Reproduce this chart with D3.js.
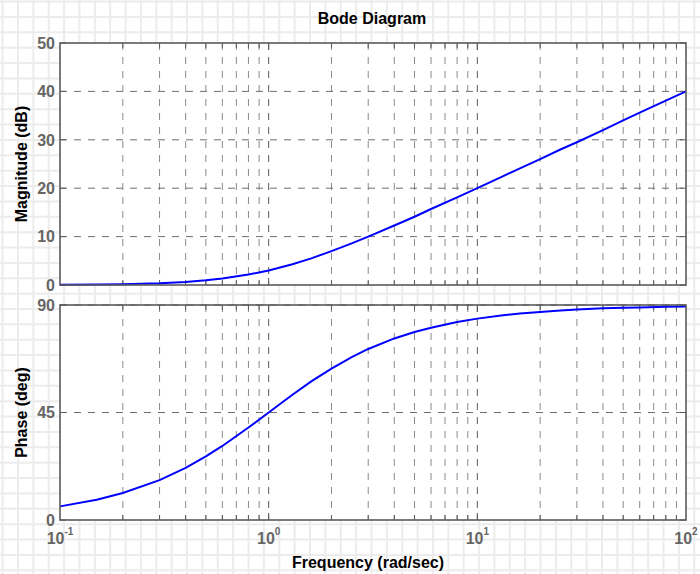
<!DOCTYPE html>
<html>
<head>
<meta charset="utf-8">
<script src="https://cdn.jsdelivr.net/npm/d3@7"></script>
<style>
  html, body { margin: 0; padding: 0; background: #fff; }
  svg { display: block; }
  text { font-family: Arial, "Liberation Sans", sans-serif; }
</style>
</head>
<body>
<svg id="chart" width="700" height="574"></svg>
<script>
// Frequency samples (rad/sec)
const freq = [0.1, 0.15, 0.2, 0.3, 0.4, 0.5, 0.6, 0.8, 1, 1.3, 1.6, 2, 2.5, 3, 4, 5, 6, 8,
              10, 13, 16, 20, 25, 30, 40, 50, 60, 80, 100];
// Magnitude response (dB)
const magnitude = [0.04, 0.1, 0.17, 0.37, 0.64, 0.97, 1.34, 2.15, 3.01, 4.3, 5.5, 7.0, 8.6, 10.0,
                   12.3, 14.1, 15.7, 18.1, 20.0, 22.3, 24.1, 26.0, 28.0, 29.5, 32.0, 34.0, 35.6, 38.1, 40.0];
// Phase response (deg)
const phase = [5.7, 8.5, 11.3, 16.7, 21.8, 26.6, 31.0, 38.7, 45.0, 52.4, 58.0, 63.4, 68.2, 71.6,
               76.0, 78.7, 80.5, 82.9, 84.3, 85.6, 86.4, 87.1, 87.7, 88.1, 88.6, 88.9, 89.0, 89.3, 89.4];

const freqTicks = [0.1, 1, 10, 100];
const freqTickExp = ["-1", "0", "1", "2"];
const magTicks = [0, 10, 20, 30, 40, 50];
const phaseTicks = [0, 45, 90];

const W = 700, H = 574;
const svg = d3.select("#chart");

// Graph-paper backdrop
const cell = 15.37, off = 2.6;
const bg = svg.append("g");
bg.append("rect").attr("width", W).attr("height", H).attr("fill", "#ffffff");
for (let x = off; x < W; x += cell) {
  bg.append("line").attr("x1", x).attr("x2", x).attr("y1", 0).attr("y2", H)
    .attr("stroke", "#ececec").attr("stroke-width", 2);
}
for (let y = off - 1; y < H; y += cell) {
  bg.append("line").attr("x1", 0).attr("x2", W).attr("y1", y).attr("y2", y)
    .attr("stroke", "#ececec").attr("stroke-width", 2);
}

const left = 60, right = 686;
const x = d3.scaleLog().domain([0.1, 100]).range([left, right]);
const yMag = d3.scaleLinear().domain([0, 50]).range([285, 43]);
const yPh = d3.scaleLinear().domain([0, 90]).range([520, 305]);

// All decade sub-divisions for grid and minor ticks
const minorFreqs = [];
[0.1, 1, 10].forEach(d => { for (let k = 1; k <= 10; k++) minorFreqs.push(+(d * k).toFixed(4)); });
const gridFreqs = Array.from(new Set(minorFreqs)).filter(f => f > 0.1 && f < 100);

function panel(y, yTicks, yGrid, values) {
  const [y0, y1] = y.range();
  const g = svg.append("g");
  g.append("rect").attr("x", left).attr("y", y1).attr("width", right - left).attr("height", y0 - y1)
    .attr("fill", "#ffffff");

  // dashed grid
  const grid = g.append("g").attr("stroke", "#6e6e6e").attr("stroke-width", 1)
    .attr("stroke-dasharray", "7,7");
  gridFreqs.forEach(f => {
    const major = freqTicks.includes(f);
    grid.append("line").attr("x1", x(f)).attr("x2", x(f)).attr("y1", y1).attr("y2", y0)
      .attr("stroke", major ? "#5a5a5a" : "#8a8a8a");
  });
  yGrid.forEach(v => {
    grid.append("line").attr("x1", left).attr("x2", right).attr("y1", y(v)).attr("y2", y(v));
  });

  // minor / major ticks on the frame
  const ticks = g.append("g").attr("stroke", "#5a5a5a").attr("stroke-width", 1);
  gridFreqs.forEach(f => {
    const len = freqTicks.includes(f) ? 7 : 5;
    ticks.append("line").attr("x1", x(f)).attr("x2", x(f)).attr("y1", y0).attr("y2", y0 - len);
    ticks.append("line").attr("x1", x(f)).attr("x2", x(f)).attr("y1", y1).attr("y2", y1 + len);
  });
  yTicks.forEach(v => {
    ticks.append("line").attr("x1", left).attr("x2", left + 6).attr("y1", y(v)).attr("y2", y(v));
    ticks.append("line").attr("x1", right).attr("x2", right - 6).attr("y1", y(v)).attr("y2", y(v));
  });

  // response curve
  const line = d3.line().x((d, i) => x(freq[i])).y(d => y(d)).curve(d3.curveLinear);
  g.append("path").datum(values).attr("d", line)
    .attr("fill", "none").attr("stroke", "#0000ff").attr("stroke-width", 2);

  // frame
  g.append("rect").attr("x", left).attr("y", y1).attr("width", right - left).attr("height", y0 - y1)
    .attr("fill", "none").attr("stroke", "#5a5a5a").attr("stroke-width", 1.6);

  // y tick labels
  yTicks.forEach(v => {
    g.append("text").attr("x", left - 5).attr("y", y(v)).attr("dy", "0.36em")
      .attr("text-anchor", "end").attr("font-size", 16).attr("font-weight", "bold")
      .attr("fill", "#666666").text(v);
  });
  return g;
}

panel(yMag, magTicks, [10, 20, 30, 40], magnitude);
panel(yPh, phaseTicks, [45, 90], phase);

// x tick labels as powers of ten
freqTicks.forEach((f, i) => {
  const t = svg.append("text").attr("x", x(f)).attr("y", 544)
    .attr("text-anchor", "middle").attr("font-size", 16).attr("font-weight", "bold")
    .attr("fill", "#666666");
  t.append("tspan").text("10");
  t.append("tspan").attr("dy", -9).attr("font-size", 10).text(freqTickExp[i]);
});

// titles
svg.append("text").attr("x", (left + right) / 2 - 1).attr("y", 24).attr("text-anchor", "middle")
  .attr("font-size", 16).attr("font-weight", "bold").attr("fill", "#000").text("Bode Diagram");
svg.append("text").attr("x", (left + right) / 2 - 5).attr("y", 568).attr("text-anchor", "middle")
  .attr("font-size", 16).attr("font-weight", "bold").attr("fill", "#000").text("Frequency  (rad/sec)");
svg.append("text").attr("transform", `translate(27,${(43 + 285) / 2}) rotate(-90)`)
  .attr("text-anchor", "middle").attr("font-size", 16).attr("font-weight", "bold")
  .attr("fill", "#000").text("Magnitude (dB)");
svg.append("text").attr("transform", `translate(27,${(305 + 520) / 2}) rotate(-90)`)
  .attr("text-anchor", "middle").attr("font-size", 16).attr("font-weight", "bold")
  .attr("fill", "#000").text("Phase (deg)");
</script>
</body>
</html>
